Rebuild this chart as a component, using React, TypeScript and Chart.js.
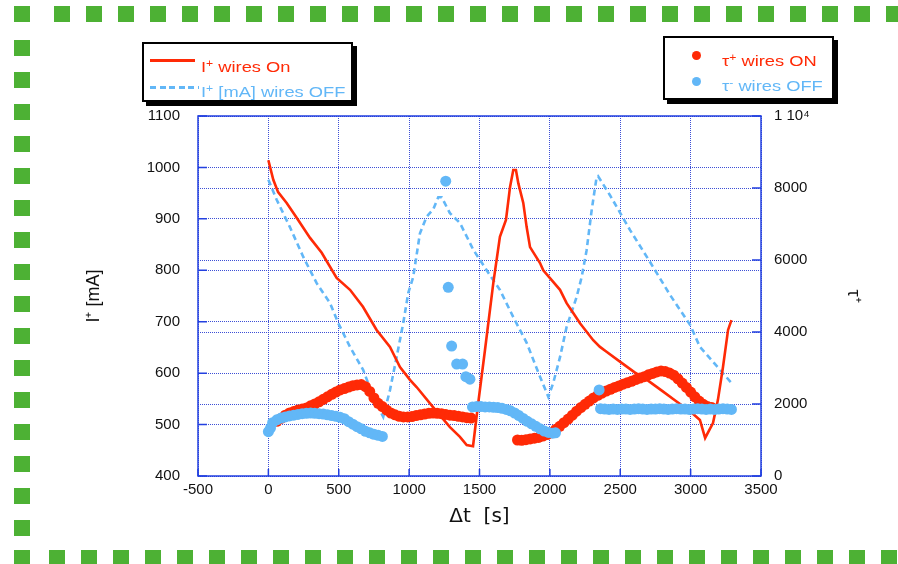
import React, { useEffect, useRef } from 'react';
import { Chart, registerables } from 'chart.js';

Chart.register(...registerables);

// ---------- data ----------
// I+ wires On (solid red line, left axis) : time [s], current [mA]
const onLineT = [0, 35, 69, 130, 201, 296, 379, 485, 580, 672, 769, 864, 935, 1006, 1053, 1170, 1290, 1361, 1409, 1454, 1491, 1539, 1598, 1645, 1688, 1717, 1740, 1759, 1776, 1811, 1835, 1859, 1930, 1953, 2013, 2072, 2119, 2166, 2214, 2308, 2356, 2400, 2500, 2600, 2700, 2800, 2900, 2950, 3000, 3066, 3103, 3159, 3194, 3230, 3266, 3290];
const onLineI = [1014, 976, 952, 931, 902, 863, 834, 785, 762, 729, 684, 651, 612, 587, 573, 534, 495, 476, 460, 458, 542, 645, 775, 865, 898, 962, 995, 995, 969, 931, 884, 845, 814, 800, 781, 762, 736, 717, 697, 664, 651, 642, 622, 602, 585, 565, 545, 535, 525, 509, 474, 503, 548, 612, 684, 703];

// I+ [mA] wires OFF (dashed blue line, left axis)
const offLineT = [0, 59, 153, 248, 343, 438, 497, 580, 674, 745, 816, 864, 911, 958, 994, 1029, 1077, 1124, 1172, 1207, 1231, 1290, 1361, 1456, 1551, 1645, 1740, 1835, 1930, 1989, 2024, 2072, 2119, 2190, 2226, 2261, 2297, 2332, 2342, 2427, 2570, 2712, 2854, 2996, 3066, 3290];
const offLineI = [976, 937, 884, 826, 775, 736, 697, 651, 606, 554, 515, 567, 631, 697, 756, 787, 872, 904, 919, 942, 942, 911, 892, 840, 800, 762, 709, 659, 593, 554, 581, 631, 690, 748, 787, 839, 917, 981, 983, 946, 878, 816, 752, 694, 651, 581];

// tau+ wires ON (red dots, right axis)
const tauOnT = [
  60, 90, 120, 150, 180, 210, 240, 270, 300, 330, 360, 390, 420, 450, 480, 510, 540, 570, 600, 630, 660, 690, 720, 750, 780, 810, 840, 870, 900, 930, 960, 990, 1020, 1050, 1080, 1110, 1140, 1170, 1200, 1230, 1260, 1290, 1320, 1350, 1380, 1410, 1440,
  1770, 1800, 1830, 1860, 1890, 1920, 1950, 1980, 2010, 2040, 2070, 2100, 2130, 2160, 2190, 2220, 2250, 2280, 2310, 2340, 2370, 2400, 2430, 2460, 2490, 2520, 2550, 2580, 2610, 2640, 2670, 2700, 2730, 2760, 2790, 2820, 2850, 2880, 2910, 2940, 2970, 3000, 3030, 3060, 3090, 3120, 3150,
];
const tauOnV = [
  1520, 1600, 1690, 1750, 1790, 1830, 1860, 1890, 1950, 2000, 2060, 2130, 2200, 2270, 2330, 2390, 2430, 2470, 2510, 2530, 2540, 2480, 2350, 2170, 2020, 1930, 1830, 1750, 1700, 1660, 1640, 1640, 1650, 1680, 1700, 1720, 1740, 1750, 1740, 1730, 1710, 1690, 1680, 1660, 1640, 1620, 1610,
  1000, 990, 1010, 1030, 1050, 1070, 1110, 1150, 1200, 1290, 1380, 1480, 1580, 1690, 1800, 1900, 1990, 2080, 2170, 2240, 2300, 2360, 2410, 2460, 2500, 2550, 2590, 2630, 2680, 2720, 2760, 2810, 2850, 2890, 2920, 2900, 2860, 2800, 2700, 2580, 2460, 2330, 2200, 2080, 1990, 1930, 1900,
];

// tau- wires OFF (blue dots, right axis)
const tauOffT = [
  0, 15, 30, 60, 90, 120, 150, 180, 210, 240, 270, 300, 330, 360, 390, 420, 450, 480, 510, 540, 570, 600, 630, 660, 690, 720, 750, 780, 810,
  1260, 1278, 1302, 1338, 1380, 1403, 1432,
  1450, 1480, 1510, 1540, 1570, 1600, 1630, 1660, 1690, 1720, 1750, 1780, 1810, 1840, 1870, 1900, 1930, 1960, 1990, 2020, 2040,
  2350, 2360, 2390, 2420, 2450, 2480, 2510, 2540, 2570, 2600, 2630, 2660, 2690, 2720, 2750, 2780, 2810, 2840, 2870, 2900, 2930, 2960, 2990, 3020, 3050, 3080, 3110, 3140, 3170, 3200, 3230, 3260, 3290,
];
const tauOffV = [
  1230, 1330, 1480, 1560, 1610, 1640, 1670, 1690, 1710, 1730, 1740, 1750, 1740, 1730, 1720, 1700, 1680, 1660, 1630, 1590, 1510, 1440, 1370, 1310, 1240, 1200, 1160, 1130, 1100,
  8190, 5240, 3610, 3110, 3110, 2760, 2690,
  1920, 1930, 1930, 1920, 1920, 1910, 1900, 1880, 1850, 1810, 1750, 1680, 1600, 1520, 1450, 1380, 1310, 1250, 1210, 1190, 1200,
  2390, 1870, 1860, 1850, 1860, 1850, 1860, 1860, 1850, 1860, 1870, 1860, 1850, 1860, 1860, 1870, 1860, 1850, 1860, 1870, 1860, 1860, 1850, 1860, 1870, 1860, 1850, 1860, 1850, 1860, 1870, 1860, 1850,
];

// axis ranges / labels
const xRange = { min: -500, max: 3500, step: 500 };
const leftRange = { min: 400, max: 1100, step: 100 };
const rightRange = { min: 0, max: 10000, step: 2000 };
const rightSpecialLabels: Record<number, string> = { 10000: '1 10\u2074' };

const xTitle = '\u0394t  [s]';
const leftTitle = 'I\u207A [mA]';
const rightTitle = '\u03C4\u207A';

// ---------- styles ----------
const RED = '#ff2a06';
const BLUE = '#62b7f7';
const GREEN = '#4db134';
const GRID = 'rgba(40,60,210,0.9)';
const FRAME = '#2340e0';
const FONT = "'Liberation Sans', Arial, Helvetica, sans-serif";

const pts = (xs: number[], ys: number[]) => xs.map((x, i) => ({ x, y: ys[i] }));

const framePlugin = {
  id: 'frame',
  beforeDatasetsDraw(chart: any) {
    const { ctx, chartArea: a, scales } = chart;
    ctx.save();
    ctx.strokeStyle = FRAME;
    ctx.lineWidth = 1.5;
    ctx.setLineDash([]);
    ctx.beginPath();
    for (const t of scales.x.ticks) {
      const p = scales.x.getPixelForValue(t.value);
      ctx.moveTo(p, a.bottom);
      ctx.lineTo(p, a.bottom - 7);
    }
    for (const t of scales.y.ticks) {
      const p = scales.y.getPixelForValue(t.value);
      ctx.moveTo(a.left, p);
      ctx.lineTo(a.left + 9, p);
    }
    for (const t of scales.y2.ticks) {
      const p = scales.y2.getPixelForValue(t.value);
      ctx.moveTo(a.right, p);
      ctx.lineTo(a.right - 9, p);
    }
    ctx.stroke();
    ctx.strokeRect(a.left, a.top, a.right - a.left, a.bottom - a.top);
    ctx.restore();
  },
};

const tickFont = { family: FONT, size: 15 };
const plain = (v: any) => String(v);

export default function App() {
  const ref = useRef<HTMLCanvasElement>(null);

  useEffect(() => {
    const chart = new Chart(ref.current as HTMLCanvasElement, {
      type: 'scatter',
      data: {
        datasets: [
          {
            label: 'tau- wires OFF',
            data: pts(tauOffT, tauOffV),
            yAxisID: 'y2',
            pointRadius: 5.5,
            pointBorderWidth: 0,
            pointBackgroundColor: BLUE,
            backgroundColor: BLUE,
            borderColor: BLUE,
            order: 0,
          },
          {
            label: 'tau+ wires ON',
            data: pts(tauOnT, tauOnV),
            yAxisID: 'y2',
            pointRadius: 5.5,
            pointBorderWidth: 0,
            pointBackgroundColor: RED,
            backgroundColor: RED,
            borderColor: RED,
            order: 1,
          },
          {
            label: 'I+ wires On',
            data: pts(onLineT, onLineI),
            yAxisID: 'y',
            showLine: true,
            borderColor: RED,
            borderWidth: 2.6,
            pointRadius: 0,
            tension: 0,
            order: 2,
          },
          {
            label: 'I+ [mA] wires OFF',
            data: pts(offLineT, offLineI),
            yAxisID: 'y',
            showLine: true,
            borderColor: BLUE,
            borderWidth: 2.6,
            borderDash: [6, 4],
            pointRadius: 0,
            tension: 0,
            order: 3,
          },
        ],
      },
      options: {
        animation: false,
        responsive: false,
        events: [],
        layout: { padding: { left: 83, right: 34, top: 116, bottom: 35 } },
        plugins: { legend: { display: false }, tooltip: { enabled: false } },
        scales: {
          x: {
            type: 'linear',
            min: xRange.min,
            max: xRange.max,
            ticks: { stepSize: xRange.step, font: tickFont, color: '#111', padding: 5, maxRotation: 0, callback: plain },
            grid: { color: GRID, lineWidth: 1, drawTicks: false },
            border: { display: false, dash: [1, 1] },
            title: { display: true, text: xTitle, color: '#111', padding: 0, font: { family: "'DejaVu Sans', sans-serif", size: 20 } },
            afterFit: (s: any) => { s.height = 53; },
          },
          y: {
            type: 'linear',
            position: 'left',
            min: leftRange.min,
            max: leftRange.max,
            ticks: { stepSize: leftRange.step, font: tickFont, color: '#111', padding: 18, callback: plain },
            grid: { color: GRID, lineWidth: 1, drawTicks: false },
            border: { display: false, dash: [1, 1] },
            title: { display: true, text: leftTitle, color: '#111', padding: 0, font: { family: FONT, size: 18 } },
            afterFit: (s: any) => { s.width = 115; },
          },
          y2: {
            type: 'linear',
            position: 'right',
            min: rightRange.min,
            max: rightRange.max,
            ticks: {
              stepSize: rightRange.step,
              font: tickFont,
              color: '#111',
              padding: 13,
              callback: (v: any) => rightSpecialLabels[v] ?? String(v),
            },
            grid: { color: GRID, lineWidth: 1, drawTicks: false, drawOnChartArea: true },
            border: { display: false, dash: [1, 1] },
            title: { display: true, text: rightTitle, color: '#111', padding: 0, font: { family: FONT, size: 18 } },
            afterFit: (s: any) => { s.width = 103; },
          },
        },
      } as any,
      plugins: [framePlugin],
    } as any);
    return () => chart.destroy();
  }, []);

  // decorative dashed green page border
  const topXs: number[] = [];
  for (let x = 54; x < 898; x += 32) topXs.push(x);
  const botXs: number[] = [];
  for (let x = 49; x < 898; x += 32) botXs.push(x);
  const leftYs: number[] = [];
  for (let y = 40; y < 540; y += 32) leftYs.push(y);
  const sq = (l: number, t: number, k: string) => (
    <div key={k} style={{ position: 'absolute', left: l, top: t, width: 16, height: 16, background: GREEN }} />
  );

  const legendText: React.CSSProperties = {
    position: 'absolute',
    fontFamily: FONT,
    fontSize: 15,
    lineHeight: '17px',
    whiteSpace: 'nowrap',
    transform: 'scaleX(1.22)',
    transformOrigin: 'left top',
  };
  const sup: React.CSSProperties = { fontSize: 10, verticalAlign: '5px' };

  return (
    <div style={{ position: 'fixed', left: 0, top: 0, width: 898, height: 564, background: '#fff', overflow: 'hidden' }}>
      <canvas ref={ref} width={898} height={564} style={{ position: 'absolute', left: 0, top: 0, width: 898, height: 564 }} />
      {sq(14, 6, 'c1')}
      {sq(14, 550, 'c2')}
      {topXs.map((x, i) => sq(x, 6, 't' + i))}
      {botXs.map((x, i) => sq(x, 550, 'b' + i))}
      {leftYs.map((y, i) => sq(14, y, 'l' + i))}

      {/* legend 1 */}
      <div style={{ position: 'absolute', left: 142, top: 42, width: 211, height: 60, border: '2px solid #000', boxShadow: '4px 4px 0 #000', background: '#fff', boxSizing: 'border-box' }} />
      <div style={{ position: 'absolute', left: 150, top: 59, width: 45, height: 2.5, background: RED }} />
      <div style={{ position: 'absolute', left: 150, top: 86, width: 49, height: 2.5, background: `repeating-linear-gradient(to right, ${BLUE} 0 6px, transparent 6px 9.6px)` }} />
      <div style={{ ...legendText, left: 201, top: 55, color: RED }}>I<span style={sup}>+</span> wires On</div>
      <div style={{ ...legendText, left: 201, top: 80, color: BLUE }}>I<span style={sup}>+</span> [mA] wires OFF</div>

      {/* legend 2 */}
      <div style={{ position: 'absolute', left: 663, top: 36, width: 171, height: 64, border: '2px solid #000', boxShadow: '4px 4px 0 #000', background: '#fff', boxSizing: 'border-box' }} />
      <div style={{ position: 'absolute', left: 692, top: 51, width: 9, height: 9, borderRadius: '50%', background: RED }} />
      <div style={{ position: 'absolute', left: 692, top: 76.5, width: 9, height: 9, borderRadius: '50%', background: BLUE }} />
      <div style={{ ...legendText, left: 722, top: 49, color: RED }}>{'\u03C4'}<span style={sup}>+</span> wires ON</div>
      <div style={{ ...legendText, left: 722, top: 74, color: BLUE }}>{'\u03C4'}<span style={sup}>-</span> wires OFF</div>
    </div>
  );
}
